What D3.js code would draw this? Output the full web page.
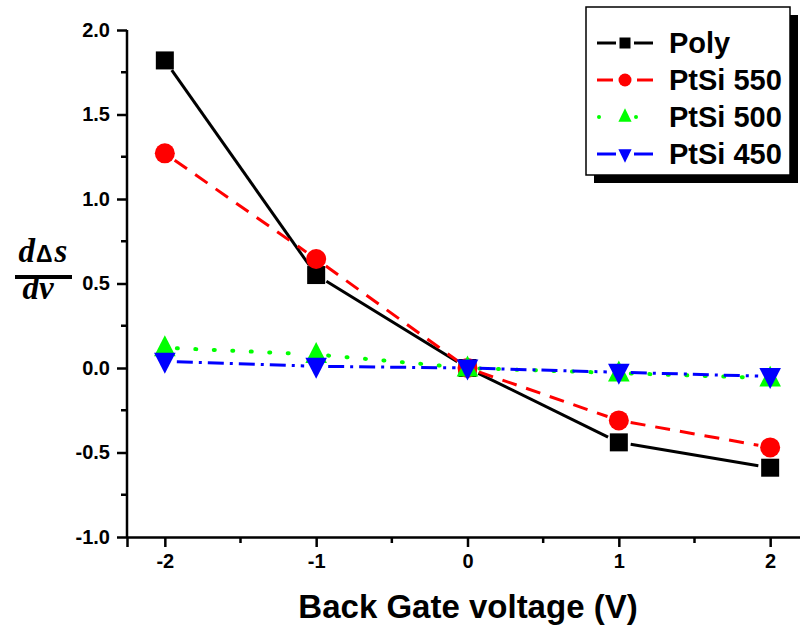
<!DOCTYPE html>
<html>
<head>
<meta charset="utf-8">
<script src="https://cdn.jsdelivr.net/npm/d3@7"></script>
<style>
  html, body { margin: 0; padding: 0; background: #fff; }
  svg { display: block; }
</style>
</head>
<body>
<svg id="chart" width="800" height="633"></svg>
<script>
// Back-gate voltage sweep points
const voltages = [-2, -1, 0, 1, 2];

// d(Δs)/dv for each sample
const poly    = [1.82, 0.55, 0.00, -0.44, -0.59];
const ptsi550 = [1.27, 0.645, 0.00, -0.31, -0.47];
const ptsi500 = [0.12, 0.08, 0.00, -0.03, -0.06];
const ptsi450 = [0.04, 0.01, 0.00, -0.025, -0.05];

const seriesNames = ["Poly", "PtSi 550", "PtSi 500", "PtSi 450"];
const xTicks = [-2, -1, 0, 1, 2];
const yTicks = [-1.0, -0.5, 0.0, 0.5, 1.0, 1.5, 2.0];

const series = [
  { name: seriesNames[0], values: poly,    color: "#000000", dash: null,          symbol: "square" },
  { name: seriesNames[1], values: ptsi550, color: "#ff0000", dash: "15,10",       symbol: "circle" },
  { name: seriesNames[2], values: ptsi500, color: "#00ff00", dash: "1,17.5",      symbol: "up" },
  { name: seriesNames[3], values: ptsi450, color: "#0000ff", dash: "16,6,3,6",    symbol: "down" }
];

const svg = d3.select("#chart");
const plotLeft = 127, plotRight = 808, plotTop = 30, plotBottom = 537;

const x = d3.scaleLinear().domain([-2.25, 2.25]).range([plotLeft, plotRight]);
const y = d3.scaleLinear().domain([-1, 2]).range([plotBottom, plotTop]);

const font = "Arial, 'Liberation Sans', Helvetica, sans-serif";
const hyphen = f => d => f(d).replace("\u2212", "-");

// Axes with minor ticks at the half steps
const xMinor = [-1.5, -0.5, 0.5, 1.5];
const yMinor = [-0.75, -0.25, 0.25, 0.75, 1.25, 1.75];

const gx = svg.append("g").attr("transform", `translate(0,${plotBottom})`);
gx.call(d3.axisBottom(x).tickValues(xTicks).tickFormat(hyphen(d3.format("d")))
  .tickSizeOuter(0).tickSize(10).tickPadding(7));
gx.selectAll("line.minor").data(xMinor).join("line")
  .attr("class", "minor")
  .attr("x1", d => x(d)).attr("x2", d => x(d))
  .attr("y1", 0).attr("y2", 6);

const gy = svg.append("g").attr("transform", `translate(${plotLeft},0)`);
gy.call(d3.axisLeft(y).tickValues(yTicks).tickFormat(hyphen(d3.format(".1f")))
  .tickSizeOuter(0).tickSize(10).tickPadding(7));
gy.selectAll("line.minor").data(yMinor).join("line")
  .attr("class", "minor")
  .attr("y1", d => y(d)).attr("y2", d => y(d))
  .attr("x1", 0).attr("x2", -6);

[gx, gy].forEach(g => {
  g.select(".domain").attr("stroke", "#000").attr("stroke-width", 2.5);
  g.selectAll("line").attr("stroke", "#000").attr("stroke-width", 2.5);
  g.selectAll("text").attr("font-family", font).attr("font-weight", "bold")
    .attr("font-size", 20).attr("fill", "#000");
});
gy.select(".domain").attr("d", `M0,${plotBottom}V${plotTop}`);

// Axis titles
svg.append("text")
  .attr("x", 468).attr("y", 618)
  .attr("text-anchor", "middle")
  .attr("font-family", font).attr("font-weight", "bold").attr("font-size", 33)
  .text("Back Gate voltage (V)");

const serif = "'Liberation Serif', 'Times New Roman', serif";
const yl = svg.append("g").attr("transform", "translate(43,0)");
const num = yl.append("text").attr("x", 0).attr("y", 262).attr("text-anchor", "middle")
  .attr("font-family", serif).attr("font-size", 33).attr("font-weight", "bold");
num.append("tspan").attr("font-style", "italic").text("d");
num.append("tspan").attr("font-family", font).attr("font-size", 23).attr("dx", 1).text("Δ");
num.append("tspan").attr("font-style", "italic").attr("dx", 2).text("s");
yl.append("line").attr("x1", -28).attr("x2", 29).attr("y1", 277).attr("y2", 277)
  .attr("stroke", "#000").attr("stroke-width", 4);
yl.append("text").attr("x", -5).attr("y", 299).attr("text-anchor", "middle")
  .attr("font-family", serif).attr("font-size", 33)
  .attr("font-weight", "bold").attr("font-style", "italic").text("dv");

// Marker drawing
function drawSymbol(g, symbol, cx, cy, s, color) {
  if (symbol === "square") {
    g.append("rect").attr("x", cx - s / 2).attr("y", cy - s / 2).attr("width", s).attr("height", s).attr("fill", color);
  } else if (symbol === "circle") {
    g.append("circle").attr("cx", cx).attr("cy", cy).attr("r", s / 2 + 1).attr("fill", color);
  } else if (symbol === "up") {
    const h = s * 1.05, w = s * 1.2;
    g.append("path").attr("d", `M${cx},${cy - h / 2 - 3}L${cx + w / 2},${cy + h / 2 - 1}L${cx - w / 2},${cy + h / 2 - 1}Z`).attr("fill", color);
  } else if (symbol === "down") {
    const h = s * 1.05, w = s * 1.2;
    g.append("path").attr("d", `M${cx},${cy + h / 2 + 3}L${cx + w / 2},${cy - h / 2 + 1}L${cx - w / 2},${cy - h / 2 + 1}Z`).attr("fill", color);
  }
}

const plot = svg.append("g");
const gap = 12;

// Connecting lines, drawn with a gap around each marker
series.forEach(s => {
  const pts = voltages.map((v, i) => [x(v), y(s.values[i])]);
  const g = plot.append("g");
  for (let i = 0; i < pts.length - 1; i++) {
    const [x0, y0] = pts[i], [x1, y1] = pts[i + 1];
    const len = Math.hypot(x1 - x0, y1 - y0);
    const ux = (x1 - x0) / len, uy = (y1 - y0) / len;
    g.append("line")
      .attr("x1", x0 + ux * gap).attr("y1", y0 + uy * gap)
      .attr("x2", x1 - ux * gap).attr("y2", y1 - uy * gap)
      .attr("stroke", s.color)
      .attr("stroke-width", s.symbol === "up" ? 4 : 3)
      .attr("stroke-dasharray", s.dash)
      .attr("stroke-linecap", s.symbol === "up" ? "round" : "butt");
  }
});

// Markers
series.forEach(s => {
  const g = plot.append("g");
  voltages.forEach((v, i) => drawSymbol(g, s.symbol, x(v), y(s.values[i]), 18, s.color));
});

// Legend with drop shadow
const lg = svg.append("g");
lg.append("rect").attr("x", 594).attr("y", 15).attr("width", 204).attr("height", 168).attr("fill", "#000");
lg.append("rect").attr("x", 586).attr("y", 7).attr("width", 204).attr("height", 168)
  .attr("fill", "#fff").attr("stroke", "#000").attr("stroke-width", 1.5);
const legendY = [43, 80, 117, 154];
series.forEach((s, i) => {
  const yy = legendY[i];
  const row = lg.append("g");
  if (s.symbol === "up") {
    [599, 636].forEach(px => row.append("circle").attr("cx", px).attr("cy", yy).attr("r", 2).attr("fill", s.color));
  } else if (s.symbol === "circle") {
    row.append("line").attr("x1", 597).attr("x2", 613).attr("y1", yy).attr("y2", yy).attr("stroke", s.color).attr("stroke-width", 3);
    row.append("line").attr("x1", 637).attr("x2", 653).attr("y1", yy).attr("y2", yy).attr("stroke", s.color).attr("stroke-width", 3);
  } else {
    row.append("line").attr("x1", 597).attr("x2", 616).attr("y1", yy).attr("y2", yy).attr("stroke", s.color).attr("stroke-width", 3);
    row.append("line").attr("x1", 634).attr("x2", 653).attr("y1", yy).attr("y2", yy).attr("stroke", s.color).attr("stroke-width", 3);
  }
  drawSymbol(row, s.symbol, 625, yy, 11, s.color);
  row.append("text").attr("x", 669).attr("y", yy + 10)
    .attr("font-family", font).attr("font-weight", "bold").attr("font-size", 29)
    .text(s.name);
});
</script>
</body>
</html>
